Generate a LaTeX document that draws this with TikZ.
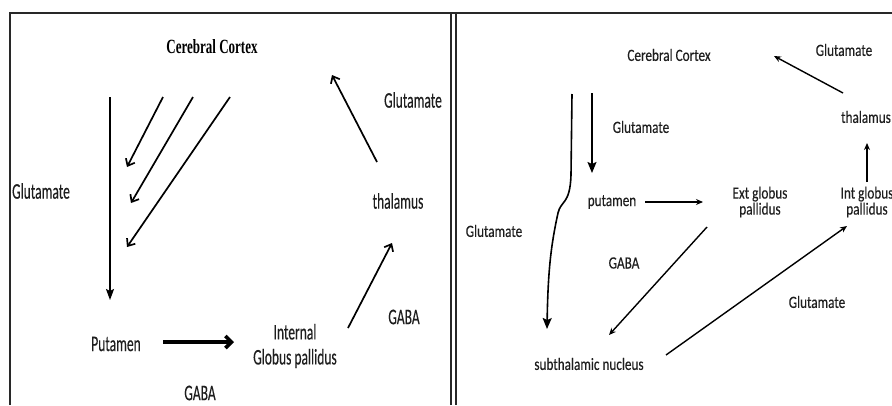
\documentclass[tikz,border=0pt]{standalone}
\usepackage{fontspec}
\usepackage{graphicx}
\usepackage{tikz}
\usetikzlibrary{arrows.meta, positioning, calc}
\setmainfont{Carlito}
\newfontfamily\lblfont{Carlito}[FakeBold=0.35]
\newfontfamily\ttlfont{Liberation Serif}
\definecolor{cText}{RGB}{30,30,30}
\definecolor{cFrame}{RGB}{40,40,40}
\newcommand{\tallL}[1]{\scalebox{1}[1.65]{#1}}
\newcommand{\tallR}[1]{\scalebox{1}[1.3]{#1}}
\tikzset{
	frame/.style    ={line width=1.4pt, draw=cFrame},
	lblL/.style     ={font=\lblfont\fontsize{13.5}{16}\selectfont, text=cText, inner sep=1pt, align=center},
	lblR/.style     ={font=\lblfont\fontsize{13.2}{15}\selectfont, text=cText, inner sep=1pt, align=center},
	ttl/.style      ={font=\ttlfont\bfseries\fontsize{13}{15}\selectfont, text=black, inner sep=1pt},
	% left panel arrows
	barb/.style     ={-{Straight Barb[length=6pt, width=10pt]}, line width=1.7pt},
	longarrow/.style={-{Stealth[length=11pt, width=8pt, inset=2pt]}, line width=1.7pt},
	fatarrow/.style ={-{Straight Barb[length=6pt, width=12pt]}, line width=3.6pt},
	% right panel arrows
	thinarrow/.style={-{Stealth[length=7pt, width=6pt]}, line width=1.4pt},
	bigarrow/.style ={-{Stealth[length=11pt, width=9pt, inset=2pt]}, line width=1.6pt},
}
\begin{document}
\begin{tikzpicture}[x=1pt, y=-1pt]
	\useasboundingbox (0,0) rectangle (892,405);
	% frame
	\draw[frame] (10,405) -- (10,13) -- (892,13);
	\draw[frame] (451,13) -- (451,405);
	\draw[frame] (456,13) -- (456,405);

	% ---- left panel ----
	\node[ttl] (cortexL) at (212,47) {\scalebox{1}[1.55]{Cerebral Cortex}};
	\node[lblL] (glutL1) at (41,191) {\tallL{Glutamate}};
	\node[lblL] (putL) at (116,344) {\tallL{Putamen}};
	\node[lblL] (gpiL) at (295,346) {\tallL{Internal}\\[9pt]\tallL{Globus pallidus}};
	\node[lblL] (gabaL1) at (200,393) {\tallL{GABA}};
	\node[lblL] (thalL) at (398,201) {\tallL{thalamus}};
	\node[lblL] (gabaL2) at (404,317) {\tallL{GABA}};
	\node[lblL] (glutL2) at (413,100) {\tallL{Glutamate}};
	\coordinate (vL0) at (110,97);  \coordinate (vL1) at (110,300);
	\coordinate (dA0) at (163,97);  \coordinate (dA1) at (127,167);
	\coordinate (dB0) at (193,97);  \coordinate (dB1) at (131,203);
	\coordinate (dC0) at (230,97);  \coordinate (dC1) at (127,247);
	\coordinate (hL0) at (163,342); \coordinate (hL1) at (234,342);
	\coordinate (gL0) at (348,328); \coordinate (gL1) at (392,243);
	\coordinate (tL0) at (377,162); \coordinate (tL1) at (332,75);
	\draw[longarrow] (vL0) -- (vL1);
	\draw[barb] (dA0) -- (dA1);
	\draw[barb] (dB0) -- (dB1);
	\draw[barb] (dC0) -- (dC1);
	\draw[fatarrow] (hL0) -- (hL1);
	\draw[barb] (gL0) -- (gL1);
	\draw[barb] (tL0) -- (tL1);

	% ---- right panel ----
	\node[lblR] (cortexR) at (669,55) {\tallR{Cerebral Cortex}};
	\node[lblR] (glutR1) at (844,50) {\tallR{Glutamate}};
	\node[lblR] (thalR) at (866,117) {\tallR{thalamus}};
	\node[lblR] (gpiR) at (867,202) {\tallR{Int globus}\\[1pt]\tallR{pallidus}};
	\node[lblR] (gpeR) at (760,202) {\tallR{Ext globus}\\[1pt]\tallR{pallidus}};
	\node[lblR] (putR) at (612,202) {\tallR{putamen}};
	\node[lblR] (glutR2) at (641,127) {\tallR{Glutamate}};
	\node[lblR] (glutR3) at (494,231) {\tallR{Glutamate}};
	\node[lblR] (gabaR) at (624,263) {\tallR{GABA}};
	\node[lblR] (stnR) at (589,364) {\tallR{subthalamic nucleus}};
	\node[lblR] (glutR4) at (817,302) {\tallR{Glutamate}};
	\coordinate (tR0) at (843,93);  \coordinate (tR1) at (774,56);
	\coordinate (iR0) at (867,182); \coordinate (iR1) at (867,143);
	\coordinate (pR0) at (645,202); \coordinate (pR1) at (703,202);
	\coordinate (vR0) at (592,93);  \coordinate (vR1) at (592,173);
	\coordinate (cR0) at (572,94);  \coordinate (cR1) at (547,329);
	\coordinate (eR0) at (707,227); \coordinate (eR1) at (609,335);
	\coordinate (sR0) at (666,355); \coordinate (sR1) at (847,226);
	\draw[thinarrow] (tR0) -- (tR1);
	\draw[thinarrow] (iR0) -- (iR1);
	\draw[thinarrow] (pR0) -- (pR1);
	\draw[bigarrow] (vR0) -- (vR1);
	\draw[bigarrow] (cR0) -- (571,175) .. controls (570,205) and (561,200) .. (558,213)
		.. controls (551,245) and (548,270) .. (cR1);
	\draw[thinarrow] (eR0) -- (eR1);
	\draw[thinarrow] (sR0) -- (sR1);
\end{tikzpicture}
\end{document}
